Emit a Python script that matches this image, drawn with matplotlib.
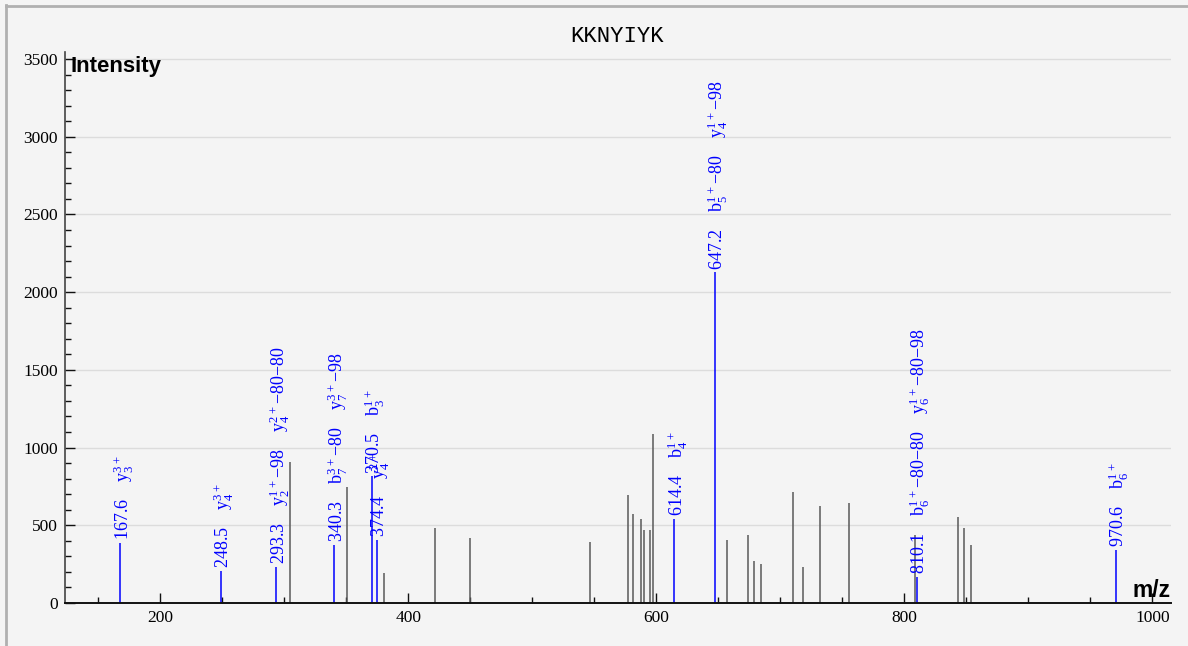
import matplotlib
matplotlib.use("Agg")
import matplotlib.pyplot as plt
from matplotlib.lines import Line2D
from matplotlib.ticker import MultipleLocator

# Annotated (matched) peaks
mz_ann = [167.6, 248.5, 293.3, 340.3, 370.5, 374.4, 614.4, 647.2, 810.1, 970.6]
int_ann = [385, 206, 231, 373, 815, 408, 540, 2127, 170, 341]
ion_ann = [
    ["$y_3^{3+}$"],
    ["$y_4^{3+}$"],
    ["$y_2^{1+}$\u221298", "$y_4^{2+}$\u221280\u221280"],
    ["$b_7^{3+}$\u221280", "$y_7^{3+}$\u221298"],
    ["$b_3^{1+}$"],
    ["$y_4^{2+}$"],
    ["$b_4^{1+}$"],
    ["$b_5^{1+}$\u221280", "$y_4^{1+}$\u221298"],
    ["$b_6^{1+}$\u221280\u221280", "$y_6^{1+}$\u221280\u221298"],
    ["$b_6^{1+}$"],
]

# Unmatched peaks
mz_bg = [304.8, 350.5, 380.1, 421.8, 449.5, 546.2, 576.9, 580.9, 587.9, 590.1,
         595.2, 597.0, 657.0, 674.2, 679.0, 684.4, 710.2, 718.0, 732.3, 755.1,
         808.3, 843.3, 847.8, 854.0]
int_bg = [906, 747, 191, 481, 420, 394, 692, 572, 540, 471,
          469, 1090, 405, 435, 268, 248, 715, 229, 625, 645,
          435, 555, 480, 373]

peptide = "KKNYIYK"

plt.rcParams['mathtext.fontset'] = 'custom'
plt.rcParams['mathtext.rm'] = 'Liberation Serif'
plt.rcParams['mathtext.default'] = 'regular'

bg = "#f4f4f4"
fig = plt.figure(figsize=(11.88, 6.46), dpi=100, facecolor=bg)
ax = fig.add_axes([65 / 1188, 43 / 646, 1106 / 1188, 551 / 646])
ax.set_facecolor(bg)

ax.set_xlim(123, 1015)
ax.set_ylim(0, 3545)

ax.yaxis.set_major_locator(MultipleLocator(500))
ax.yaxis.set_minor_locator(MultipleLocator(100))
ax.xaxis.set_major_locator(MultipleLocator(200))
ax.xaxis.set_minor_locator(MultipleLocator(50))
ax.grid(axis="y", which="major", color="#dcdcdc", lw=1)
ax.set_axisbelow(True)

ax.vlines(mz_bg, 0, int_bg, color="#5a5a5a", lw=1.1)
ax.vlines(mz_ann, 0, int_ann, color="#0000ff", lw=1.1)

for mz, inten, ions in zip(mz_ann, int_ann, ion_ann):
    label = "    ".join([f"{mz:.1f}"] + ions)
    ax.annotate(label, (mz, inten), xytext=(0, 2), textcoords="offset points",
                rotation=90, rotation_mode="anchor", ha="left", va="center_baseline",
                color="#0000ff", fontsize=13, family="Liberation Serif")

for s in ["top", "right"]:
    ax.spines[s].set_visible(False)
ax.spines["bottom"].set_color("#111111")
ax.spines["bottom"].set_linewidth(1.4)
ax.spines["left"].set_color("#444444")
ax.spines["left"].set_linewidth(1.2)

ax.tick_params(which="both", direction="in", color="#111111", width=1)
ax.tick_params(which="major", length=7.5)
ax.tick_params(which="minor", length=4.5)
ax.tick_params(axis="y", pad=5)
ax.tick_params(axis="x", pad=5)
for lab in ax.get_xticklabels() + ax.get_yticklabels():
    lab.set_family("Liberation Serif")
    lab.set_fontsize(12.5)

ax.text(0.005, 531 / 551, "Intensity", transform=ax.transAxes, fontsize=16,
        fontweight="bold", family="Liberation Sans", va="baseline", ha="left")
ax.text(0.9995, 6 / 551, "m/z", transform=ax.transAxes, fontsize=16.5,
        fontweight="bold", family="Liberation Sans", va="baseline", ha="right")
fig.text(617 / 1188, 1 - 37 / 646, peptide, family="Liberation Mono", fontsize=16,
         ha="center", va="center")

# frame lines at the top and left edges
fig.add_artist(Line2D([5.5 / 1188, 1], [1 - 6 / 646, 1 - 6 / 646], color="#b0b0b0", lw=2,
                      transform=fig.transFigure))
fig.add_artist(Line2D([6 / 1188, 6 / 1188], [0, 1 - 5 / 646], color="#b0b0b0", lw=2,
                      transform=fig.transFigure))

fig.savefig("out.png", dpi=100, facecolor=bg)
